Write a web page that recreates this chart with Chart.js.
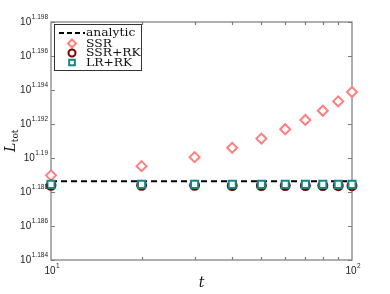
<!DOCTYPE html>
<html>
<head>
<meta charset="utf-8">
<script src="https://cdn.jsdelivr.net/npm/chart.js@4"></script>
<style>
  html, body { margin: 0; padding: 0; background: #fff; }
</style>
</head>
<body>
<canvas id="lossChart" width="390" height="294"></canvas>
<script>
// values are the exponents of the log axis (L_tot = 10^exp)
const tValues = [10, 20, 30, 40, 50, 60, 70, 80, 90, 100];
const ssrExp = [1.18898, 1.18952, 1.19005, 1.19060, 1.19114, 1.19169, 1.19224, 1.19278, 1.19333, 1.19388];
const ssrRkExp = [1.18839, 1.18839, 1.18839, 1.18838, 1.18838, 1.18838, 1.18838, 1.18838, 1.18837, 1.18837];
const lrRkExp = [1.18845, 1.18845, 1.18845, 1.18845, 1.18845, 1.18845, 1.18845, 1.18845, 1.18845, 1.18845];
const analyticExp = [1.18863, 1.18863];
const analyticT = [10, 100];

const yTickExp = [1.184, 1.186, 1.188, 1.190, 1.192, 1.194, 1.196, 1.198];
const yTickLabels = ['1.184', '1.186', '1.188', '1.19', '1.192', '1.194', '1.196', '1.198'];
const xMajorTicks = [10, 100];
const xMajorLabels = ['1', '2'];
const xMinorTicks = [20, 30, 40, 50, 60, 70, 80, 90];

const pow10 = e => Math.pow(10, e);
const toPoints = (xs, exps) => xs.map((x, i) => ({ x: x, y: pow10(exps[i]) }));

// draw "10^exp" label
function drawPower(ctx, x, y, exp, align) {
    ctx.font = '10px "Liberation Sans", Arial, sans-serif';
    const wBase = ctx.measureText('10').width;
    ctx.font = '6.5px "Liberation Sans", Arial, sans-serif';
    const wExp = ctx.measureText(exp).width + 0.5;
    let start = x;
    if (align === 'right') start = x - wBase - wExp;
    if (align === 'center') start = x - (wBase + wExp) / 2;
    ctx.textAlign = 'left';
    ctx.textBaseline = 'middle';
    ctx.fillStyle = '#222';
    ctx.font = '10px "Liberation Sans", Arial, sans-serif';
    ctx.fillText('10', start, y);
    ctx.font = '6.5px "Liberation Sans", Arial, sans-serif';
    ctx.fillText(exp, start + wBase + 0.5, y - 5);
}

function drawMarkerPath(ctx, style, r, cx, cy) {
    if (style === 'circle') {
        ctx.arc(cx, cy, r, 0, Math.PI * 2);
    } else if (style === 'rect') {
        const s = r * Math.SQRT1_2;
        ctx.rect(cx - s, cy - s, 2 * s, 2 * s);
    } else {
        ctx.moveTo(cx - r, cy); ctx.lineTo(cx, cy - r);
        ctx.lineTo(cx + r, cy); ctx.lineTo(cx, cy + r);
        ctx.closePath();
    }
}

const axesDecor = {
    id: 'axesDecor',
    beforeDatasetsDraw(chart) {
        const { ctx, chartArea: a, scales: { x, y } } = chart;
        ctx.save();
        ctx.strokeStyle = '#7a7a7a';
        ctx.lineWidth = 1.2;
        ctx.strokeRect(a.left, a.top, a.right - a.left, a.bottom - a.top);
        ctx.beginPath();
        yTickExp.forEach(e => {
            const py = Math.round(y.getPixelForValue(pow10(e))) + 0.5;
            ctx.moveTo(a.left, py); ctx.lineTo(a.left + 4, py);
            ctx.moveTo(a.right, py); ctx.lineTo(a.right - 4, py);
        });
        xMinorTicks.forEach(t => {
            const px = Math.round(x.getPixelForValue(t)) + 0.5;
            ctx.moveTo(px, a.bottom); ctx.lineTo(px, a.bottom - 3);
            ctx.moveTo(px, a.top); ctx.lineTo(px, a.top + 3);
        });
        ctx.stroke();
        ctx.restore();
    },
    afterDraw(chart) {
        const { ctx, chartArea: a, scales: { x, y } } = chart;
        ctx.save();
        yTickExp.forEach((e, i) => {
            drawPower(ctx, 48, y.getPixelForValue(pow10(e)), yTickLabels[i], 'right');
        });
        xMajorTicks.forEach((t, i) => {
            drawPower(ctx, x.getPixelForValue(t) + 1, 271, xMajorLabels[i], 'center');
        });

        // axis titles
        ctx.fillStyle = '#111';
        ctx.textBaseline = 'alphabetic';
        ctx.textAlign = 'left';
        ctx.font = 'italic 14px "DejaVu Serif", serif';
        const tw = ctx.measureText('t').width;
        ctx.fillText('t', (a.left + a.right) / 2 - tw / 2, 287);

        ctx.translate(15, 152);
        ctx.rotate(-Math.PI / 2);
        ctx.font = 'italic 14px "DejaVu Serif", serif';
        ctx.fillText('L', 0, 0);
        const lw = ctx.measureText('L').width;
        ctx.font = '9px "DejaVu Serif", serif';
        ctx.fillText('tot', lw + 0.5, 3);
        ctx.setTransform(1, 0, 0, 1, 0, 0);

        // legend
        const lx = 54.5, ly = 24.5, lwid = 87, lh = 46;
        ctx.fillStyle = '#fff';
        ctx.fillRect(lx, ly, lwid, lh);
        ctx.strokeStyle = '#333';
        ctx.lineWidth = 1;
        ctx.strokeRect(lx, ly, lwid, lh);
        ctx.font = '11px "DejaVu Serif", serif';
        ctx.textBaseline = 'middle';
        const rows = [33, 43.5, 53, 62.5];
        chart.data.datasets.forEach((ds, i) => {
            const ry = rows[i];
            ctx.save();
            if (ds.showLine) {
                ctx.strokeStyle = ds.borderColor;
                ctx.lineWidth = 2;
                ctx.setLineDash([5, 3]);
                ctx.beginPath();
                ctx.moveTo(59, ry); ctx.lineTo(85, ry);
                ctx.stroke();
            } else {
                ctx.strokeStyle = ds.borderColor;
                ctx.lineWidth = ds.pointBorderWidth;
                ctx.fillStyle = '#fff';
                ctx.beginPath();
                drawMarkerPath(ctx, ds.pointStyle, ds.pointRadius - 1, 72, ry);
                ctx.fill();
                ctx.stroke();
            }
            ctx.restore();
            ctx.save();
            ctx.translate(86, ry + 0.5);
            ctx.scale(1.12, 1);
            ctx.fillStyle = '#111';
            ctx.fillText(ds.label, 0, 0);
            ctx.restore();
        });
        ctx.restore();
    }
};

new Chart(document.getElementById('lossChart'), {
    type: 'line',
    data: {
        datasets: [
            {
                label: 'analytic',
                data: toPoints(analyticT, analyticExp),
                showLine: true,
                borderColor: '#000',
                borderWidth: 2,
                borderDash: [6, 4],
                pointRadius: 0,
                order: 4
            },
            {
                label: 'SSR',
                data: toPoints(tValues, ssrExp),
                showLine: false,
                pointStyle: 'rectRot',
                pointRadius: 5,
                pointBorderWidth: 2,
                borderColor: '#ff7f7f',
                backgroundColor: '#fff',
                order: 3
            },
            {
                label: 'SSR+RK',
                data: toPoints(tValues, ssrRkExp),
                showLine: false,
                pointStyle: 'circle',
                pointRadius: 4.5,
                pointBorderWidth: 2,
                borderColor: '#7a0000',
                backgroundColor: '#fff',
                order: 2
            },
            {
                label: 'LR+RK',
                data: toPoints(tValues, lrRkExp),
                showLine: false,
                pointStyle: 'rect',
                pointRadius: 5,
                pointBorderWidth: 2,
                borderColor: '#168585',
                backgroundColor: '#fff',
                order: 1
            }
        ]
    },
    options: {
        responsive: false,
        animation: false,
        clip: false,
        layout: { padding: { left: 51, right: 38, top: 22, bottom: 34 } },
        plugins: { legend: { display: false }, tooltip: { enabled: false } },
        scales: {
            x: { type: 'logarithmic', min: 10, max: 100, bounds: 'data', display: false },
            y: { type: 'logarithmic', min: pow10(1.184), max: pow10(1.198), bounds: 'data', display: false }
        }
    },
    plugins: [axesDecor]
});
</script>
</body>
</html>
